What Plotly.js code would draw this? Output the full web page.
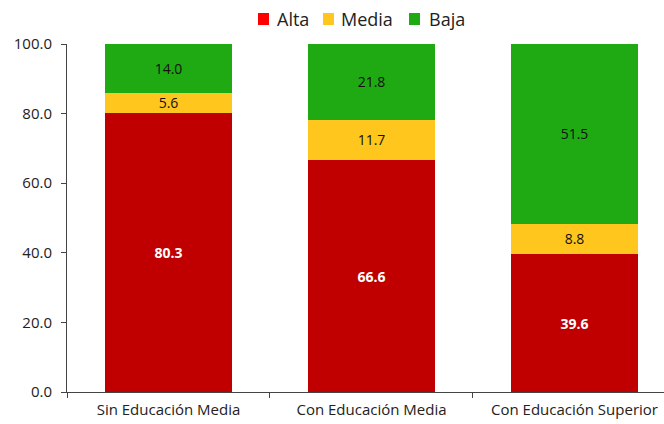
<!DOCTYPE html>
<html>
<head>
<meta charset="utf-8">
<script src="https://cdn.plot.ly/plotly-3.0.1.min.js"></script>
<style>html,body{margin:0;padding:0;background:#fff;}#chart{width:664px;height:424px;}</style>
</head>
<body>
<div id="chart"></div>
<script>
const categories = ["Sin Educación Media", "Con Educación Media", "Con Educación Superior"];
const alta = [80.3, 66.6, 39.6];
const media = [5.6, 11.7, 8.8];
const baja = [14.0, 21.8, 51.5];
const seriesNames = ["Alta", "Media", "Baja"];
const barColors = ["#C00000", "#FFC61E", "#1FAA14"];
const legendColors = ["#FF0000", "#FFC61E", "#1FAA14"];
const yTicks = [0, 20, 40, 60, 80, 100];

const FONT = "Open Sans, sans-serif";
const seriesValues = [alta, media, baja];
const textColors = ["#ffffff", "#111111", "#111111"];
const textWeights = ["bold", "normal", "normal"];

// plot-area geometry (pixels) used only to place the custom legend
const W = 664, H = 424, ML = 67, MR = 0, MT = 44, MB = 32;
const PW = W - ML - MR, PH = H - MT - MB;
const px2x = p => (p - ML) / PW;
const py2y = p => (H - MB - p) / PH;
const legendSquareLeft = [258, 323, 409];
const legendTextLeft = [275, 339, 427];
const legendCenterY = 19, sq = 11;

const traces = [];
seriesValues.forEach((vals, i) => {
  traces.push({
    type: "bar",
    name: seriesNames[i],
    x: categories,
    y: vals,
    marker: {color: barColors[i], line: {width: 0}},
    texttemplate: "%{y:.1f}",
    textposition: "inside",
    insidetextanchor: "middle",
    textangle: 0,
    constraintext: "none",
    insidetextfont: {family: FONT, size: 14, color: textColors[i], weight: textWeights[i]},
    showlegend: false,
    hoverinfo: "skip"
  });
});

const shapes = seriesNames.map((n, i) => ({
  type: "rect", xref: "paper", yref: "paper",
  x0: px2x(legendSquareLeft[i]), x1: px2x(legendSquareLeft[i] + sq),
  y0: py2y(legendCenterY + 6), y1: py2y(legendCenterY - 6),
  fillcolor: legendColors[i], line: {width: 0}
}));
const annotations = seriesNames.map((n, i) => ({
  xref: "paper", yref: "paper",
  x: px2x(legendTextLeft[i]), y: py2y(legendCenterY),
  xanchor: "left", yanchor: "middle",
  text: n, showarrow: false,
  font: {family: FONT, size: 18, color: "#222222"}
}));

const layout = {
  width: W,
  height: H,
  margin: {l: ML, r: MR, t: MT, b: MB, pad: 0},
  paper_bgcolor: "#ffffff",
  plot_bgcolor: "#ffffff",
  barmode: "stack",
  bargap: 0.374,
  font: {family: FONT, color: "#222222"},
  showlegend: false,
  shapes: shapes,
  annotations: annotations,
  xaxis: {
    type: "category",
    range: [-0.5, 2.441],
    showline: true,
    linecolor: "#444444",
    linewidth: 1,
    ticks: "outside",
    tickson: "boundaries",
    ticklen: 5,
    tickcolor: "#444444",
    ticklabelstandoff: 4,
    tickfont: {family: FONT, size: 15, color: "#222222"},
    showgrid: false,
    zeroline: false,
    fixedrange: true
  },
  yaxis: {
    range: [0, 100],
    tickvals: yTicks,
    tickformat: ".1f",
    showline: true,
    linecolor: "#444444",
    linewidth: 1,
    ticks: "outside",
    ticklen: 5,
    tickcolor: "#444444",
    ticklabelstandoff: 6,
    tickfont: {family: FONT, size: 15, color: "#222222"},
    showgrid: false,
    zeroline: false,
    fixedrange: true
  }
};

Plotly.newPlot("chart", traces, layout, {displayModeBar: false, staticPlot: true});
</script>
</body>
</html>
